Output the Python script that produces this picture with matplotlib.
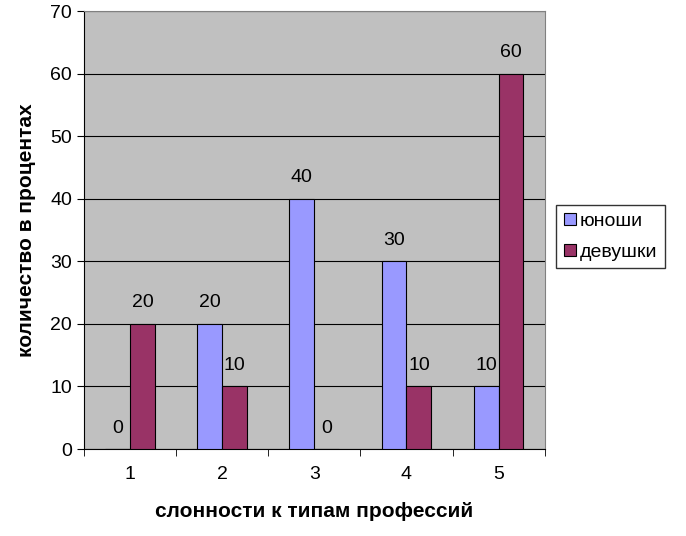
import numpy as np
import matplotlib
matplotlib.use("Agg")
import matplotlib.pyplot as plt

plt.rcParams['font.family'] = ['Liberation Sans', 'DejaVu Sans']

categories = ['1', '2', '3', '4', '5']
boys = [0, 20, 40, 30, 10]
girls = [20, 10, 0, 10, 60]

fig = plt.figure(figsize=(6.86, 5.36), dpi=100)
ax = fig.add_axes([0.1224, 0.1623, 0.6716, 0.8167])
ax.set_facecolor('#C0C0C0')

x = np.arange(len(categories))
w = 0.27
b1 = ax.bar(x - w / 2, boys, w, color='#9999FF', edgecolor='black', linewidth=0.8, label='юноши', zorder=3)
b2 = ax.bar(x + w / 2, girls, w, color='#993366', edgecolor='black', linewidth=0.8, label='девушки', zorder=3)
for bars in (b1, b2):
    for r in bars:
        h = r.get_height()
        ax.text(r.get_x() + r.get_width() / 2, h + 2, f'{h:g}', ha='center', va='bottom', fontsize=14)

ax.set_xlim(-0.5, 4.5)
ax.set_ylim(0, 70)
ax.set_yticks(range(0, 71, 10))
ax.yaxis.grid(True, color='black', linewidth=0.8, zorder=0)
ax.set_xticks(x)
ax.set_xticklabels(categories)
ax.set_xticks(np.arange(-0.5, 5, 1), minor=True)
ax.tick_params(axis='x', which='major', length=0, pad=12, labelsize=14)
ax.tick_params(axis='x', which='minor', length=5, direction='out')
ax.tick_params(axis='y', length=5, labelsize=14)
for s in ['top', 'right']:
    ax.spines[s].set_color('#808080')
ax.set_xlabel('слонности к типам профессий', fontsize=15, fontweight='bold', labelpad=14)
ax.set_ylabel('количество в процентах', fontsize=15, fontweight='bold', labelpad=10)

ax.legend(loc='center left', bbox_to_anchor=(1.025, 0.485), fontsize=14, frameon=True,
          fancybox=False, edgecolor='black', handlelength=0.6, handleheight=0.6,
          handletextpad=0.2, labelspacing=0.7, borderpad=0.4, borderaxespad=0)

fig.savefig('out.png', dpi=100)
